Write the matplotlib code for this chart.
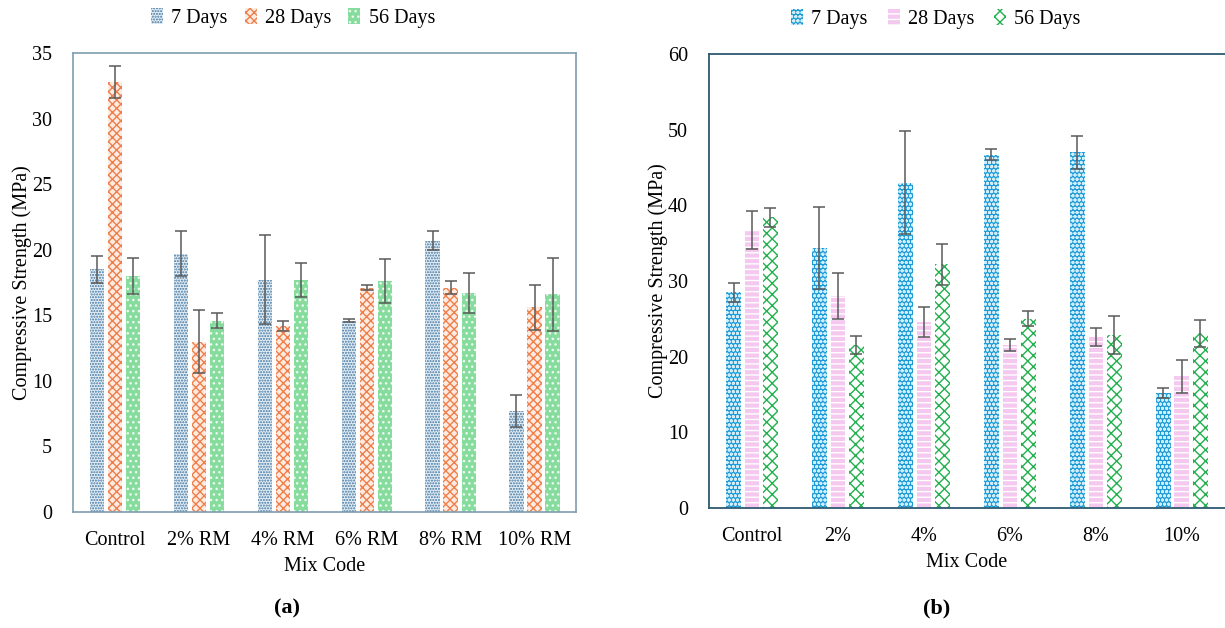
import matplotlib.pyplot as plt
import numpy as np

plt.rcParams['font.family'] = ['Liberation Serif', 'DejaVu Serif']
plt.rcParams['hatch.linewidth'] = 1.0

# (a) data
a_mix = ['Control', '2% RM', '4% RM', '6% RM', '8% RM', '10% RM']
a_7 = [18.5, 19.7, 17.7, 14.6, 20.7, 7.7]
a_7_err = [1.0, 1.7, 3.4, 0.1, 0.7, 1.2]
a_28 = [32.8, 13.0, 14.2, 17.1, 17.1, 15.6]
a_28_err = [1.2, 2.4, 0.4, 0.2, 0.5, 1.7]
a_56 = [18.0, 14.6, 17.7, 17.6, 16.7, 16.6]
a_56_err = [1.4, 0.6, 1.3, 1.7, 1.5, 2.8]

# (b) data
b_mix = ['Control', '2%', '4%', '6%', '8%', '10%']
b_7 = [28.5, 34.4, 43.0, 46.7, 47.0, 15.2]
b_7_err = [1.3, 5.4, 6.8, 0.7, 2.2, 0.6]
b_28 = [36.7, 28.0, 24.6, 21.5, 22.6, 17.4]
b_28_err = [2.5, 3.0, 2.0, 0.8, 1.2, 2.2]
b_56 = [38.4, 21.5, 32.2, 25.0, 22.9, 23.1]
b_56_err = [1.2, 1.2, 2.7, 1.0, 2.5, 1.8]

fig = plt.figure(figsize=(12.25, 6.28), dpi=100)
ax1 = fig.add_axes([0.0596, 0.1847, 0.4110, 0.7309])
ax2 = fig.add_axes([0.5788, 0.1911, 0.4210, 0.7229])

w = 0.17
gap = 0.215
fs = 14.5
err_kw = dict(ecolor='#5a5a5a', elinewidth=1.1, capsize=4, capthick=1.1)

x = np.arange(len(a_mix))
ax1.bar(x - gap, a_7, w, yerr=a_7_err, color='#e4eef5', edgecolor='#3f74a0',
        linewidth=0, hatch='......', label='7 Days', error_kw=err_kw)
ax1.bar(x, a_28, w, yerr=a_28_err, color='#fdebe2', edgecolor='#ef7f4a',
        linewidth=0, hatch='xxxx', label='28 Days', error_kw=err_kw)
ax1.bar(x + gap, a_56, w, yerr=a_56_err, color='#86dc9c', edgecolor='#eefaf1',
        linewidth=0, hatch='...', label='56 Days', error_kw=err_kw)
ax1.set_xlim(-0.5, len(a_mix) - 0.5)
ax1.set_ylim(0, 35)
ax1.set_yticks(range(0, 36, 5))
ax1.set_xticks(x)
ax1.set_xticklabels(a_mix)
for s in ax1.spines.values():
    s.set_color('#7f9db0')
    s.set_linewidth(1.2)
ax1.tick_params(axis='both', length=0, labelsize=fs)
ax1.tick_params(axis='y', pad=15)
ax1.tick_params(axis='x', pad=14)
ax1.set_xlabel('Mix Code', fontsize=fs, labelpad=5)
ax1.set_ylabel('Compressive Strength (MPa)', fontsize=fs, labelpad=0)
ax1.legend(loc='lower center', bbox_to_anchor=(0.437, 1.015), ncol=3, frameon=False,
           fontsize=fs, handlelength=0.6, handleheight=0.8, handletextpad=0.4,
           columnspacing=0.85)

x = np.arange(len(b_mix))
ax2.bar(x - gap, b_7, w, yerr=b_7_err, color='#1e9bd6', edgecolor='#cfeefa',
        linewidth=0, hatch='oooo', label='7 Days', error_kw=err_kw)
ax2.bar(x, b_28, w, yerr=b_28_err, color='#f4c8ef', edgecolor='white',
        linewidth=0, hatch='---', label='28 Days', error_kw=err_kw)
ax2.bar(x + gap, b_56, w, yerr=b_56_err, color='white', edgecolor='#22b04e',
        linewidth=0, hatch='xxx', label='56 Days', error_kw=err_kw)
ax2.set_xlim(-0.5, len(b_mix) - 0.5)
ax2.set_ylim(0, 60)
ax2.set_yticks(range(0, 61, 10))
ax2.set_xticks(x)
ax2.set_xticklabels(b_mix)
for name, s in ax2.spines.items():
    s.set_color('#2e5a72')
    s.set_linewidth(1.3)
ax2.spines['right'].set_visible(False)
ax2.tick_params(axis='both', length=0, labelsize=fs)
ax2.tick_params(axis='y', pad=15)
ax2.tick_params(axis='x', pad=14)
ax2.set_xlabel('Mix Code', fontsize=fs, labelpad=5)
ax2.set_ylabel('Compressive Strength (MPa)', fontsize=fs, labelpad=0)
ax2.legend(loc='lower center', bbox_to_anchor=(0.44, 1.015), ncol=3, frameon=False,
           fontsize=fs, handlelength=0.6, handleheight=0.8, handletextpad=0.4,
           columnspacing=1.0)

fig.text(287 / 1225, 1 - 608 / 628, '(a)', fontsize=16, fontweight='bold',
         ha='center', va='center')
fig.text(937 / 1225, 1 - 608 / 628, '(b)', fontsize=16, fontweight='bold',
         ha='center', va='center')

fig.savefig('out.png', dpi=100)
